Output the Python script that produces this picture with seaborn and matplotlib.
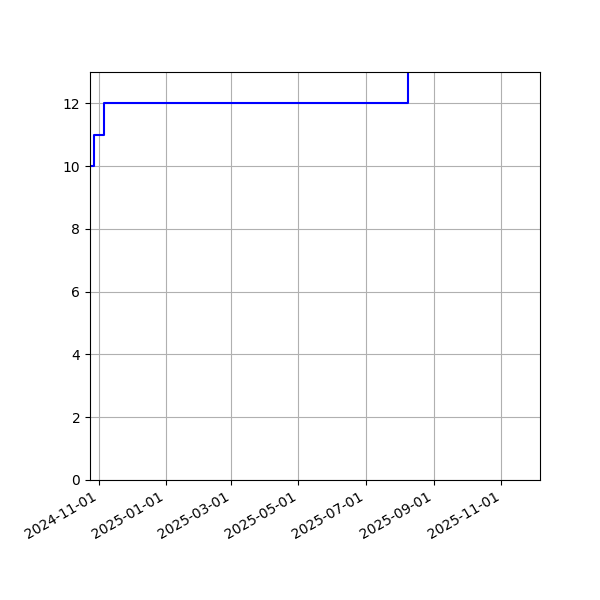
import pandas as pd
import matplotlib
matplotlib.use("Agg")
import matplotlib.pyplot as plt
import matplotlib.dates as mdates
import seaborn as sns

# datas de mudança e valor acumulado
datas = ["2024-10-24", "2024-10-28", "2024-11-06", "2025-08-08", "2025-12-06"]
valores = [10, 11, 12, 14, 14]

df = pd.DataFrame({"data": pd.to_datetime(datas), "valor": valores})

fig, ax = plt.subplots(figsize=(6, 6), dpi=100)
sns.lineplot(x="data", y="valor", data=df, color="blue", drawstyle="steps-post", ax=ax)

ax.set_xlim(pd.Timestamp("2024-10-24"), pd.Timestamp("2025-12-06"))
ax.set_ylim(0, 13)
ax.xaxis.set_major_locator(mdates.MonthLocator(bymonth=[1, 3, 5, 7, 9, 11]))
ax.xaxis.set_major_formatter(mdates.DateFormatter("%Y-%m-%d"))
ax.set_xlabel("")
ax.set_ylabel("")
ax.grid(True)
plt.setp(ax.get_xticklabels(), rotation=30, ha="right")
fig.subplots_adjust(left=0.15, right=0.9, top=0.88, bottom=0.2)
fig.savefig("out.png", dpi=100)
